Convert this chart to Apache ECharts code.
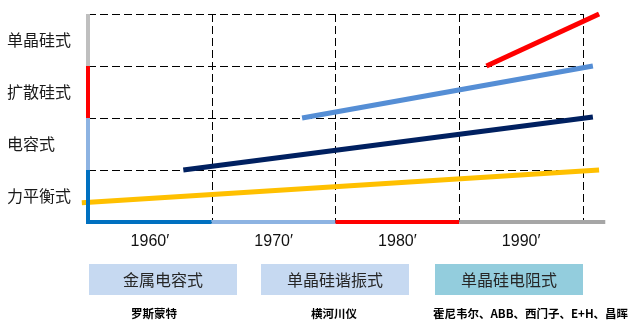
<!DOCTYPE html>
<html>
<head>
<meta charset="utf-8">
<script src="https://cdn.jsdelivr.net/npm/echarts@6/dist/echarts.min.js"></script>
<style>
html,body{margin:0;padding:0;background:#fff;}
#chart{width:632px;height:330px;}
</style>
</head>
<body>
<div id="chart"></div>
<script>
// ---- data ----
var typeLabels = ['力平衡式', '电容式', '扩散硅式', '单晶硅式'];
var decadeLabels = ['1960′', '1970′', '1980′', '1990′'];
var techLabels = ['金属电容式', '单晶硅谐振式', '单晶硅电阻式'];
var makerLabels = ['罗斯蒙特', '横河川仪', '霍尼韦尔、ABB、西门子、E+H、昌晖'];

// trend lines: [year, level]
var forceBalance = [[1959.5, 0.37], [2001.3, 1.0]];
var capacitive   = [[1967.7, 1.0], [2000.8, 2.02]];
var diffusedSi   = [[1977.3, 2.0], [2000.8, 3.0]];
var monoSi       = [[1992.2, 3.0], [2001.3, 4.0]];

// era segments along the axes
var eraStarts = [1960, 1970, 1980, 1990];
var eraEnds   = [1970, 1980, 1990, 2001.8];
var levelStarts = [0, 1, 2, 3];
var levelEnds   = [1, 2, 3, 4];

// ---- chart ----
var FONT = '"Noto Sans CJK SC", "Noto Sans", sans-serif';
var bottomColors = ['#0070c0', '#8db3e2', '#ff0000', '#a6a6a6'];
var leftColors   = ['#0070c0', '#8db3e2', '#ff0000', '#bfbfbf'];
var trendColors  = ['#ffc000', '#002060', '#558ed5', '#ff0000'];
var dash = {color: '#000', width: 1, type: [8, 4]};
var PX_PER_YEAR = 495 / 40;
var X_MIN = 1959, X_MAX = 2002;

var series = [];
var trends = [forceBalance, capacitive, diffusedSi, monoSi];
trends.forEach(function (d, i) {
  series.push({
    type: 'line', xAxisIndex: 2, yAxisIndex: 2, data: d, showSymbol: false,
    symbol: 'none', clip: false, silent: true, z: 5,
    lineStyle: {color: trendColors[i], width: 5, cap: 'butt'}
  });
});
// axis segments
for (var i = 0; i < 4; i++) {
  if (i === 0) {
    var pts = [[eraStarts[0], levelEnds[0]], [eraStarts[0], levelStarts[0]], [eraEnds[0], levelStarts[0]]];
    series.push({type: 'line', xAxisIndex: 2, yAxisIndex: 2, data: pts, symbol: 'none', clip: false, silent: true, z: 6,
      lineStyle: {color: bottomColors[0], width: 4, join: 'miter'}});
  } else {
    series.push({type: 'line', xAxisIndex: 2, yAxisIndex: 2,
      data: [[eraStarts[i], 0], [eraEnds[i], 0]], symbol: 'none', clip: false, silent: true, z: 6,
      lineStyle: {color: bottomColors[i], width: 4}});
    series.push({type: 'line', xAxisIndex: 2, yAxisIndex: 2,
      data: [[eraStarts[0], levelStarts[i]], [eraStarts[0], levelEnds[i]]], symbol: 'none', clip: false, silent: true, z: 6,
      lineStyle: {color: leftColors[i], width: 4}});
  }
}

var boxColors = ['#c6d9f1', '#c6d9f1', '#93cddd'];
var boxLeft = [89, 261, 435];
var boxW = 148, boxTop = 264, boxH = 31;
var graphics = [];
techLabels.forEach(function (t, i) {
  graphics.push({
    type: 'rect', left: boxLeft[i], top: boxTop, shape: {width: boxW, height: boxH},
    style: {fill: boxColors[i]}, silent: true
  });
  graphics.push({
    type: 'text', x: boxLeft[i] + boxW / 2, y: boxTop + boxH / 2,
    style: {text: t, fill: '#262626', font: '16px ' + FONT, textAlign: 'center', textVerticalAlign: 'middle'}
  });
});
var makerX = [154, 334, 433];
var makerAlign = ['center', 'center', 'left'];
makerLabels.forEach(function (t, i) {
  graphics.push({
    type: 'text', x: makerX[i], y: 314,
    style: {text: t, fill: '#000', font: 'bold 11.5px ' + FONT, textAlign: makerAlign[i], textVerticalAlign: 'middle'}
  });
});

var hidden = {axisLine: {show: false}, axisTick: {show: false}, axisLabel: {show: false}, splitLine: {show: false}};
function merge(a, b) { var o = {}; for (var k in a) o[k] = a[k]; for (var k2 in b) o[k2] = b[k2]; return o; }

var chart = echarts.init(document.getElementById('chart'), null, {renderer: 'canvas'});
chart.setOption({
  backgroundColor: '#fff',
  animation: false,
  grid: [
    {left: 88, top: 14, width: 495, height: 208, containLabel: false, outerBoundsMode: 'none'},
    {left: 88 - (1960 - X_MIN) * PX_PER_YEAR, top: 14, width: (X_MAX - X_MIN) * PX_PER_YEAR, height: 208,
     containLabel: false, outerBoundsMode: 'none'}
  ],
  xAxis: [
    {type: 'value', gridIndex: 0, min: 1960, max: 2000, interval: 10,
     axisLine: {show: false}, axisTick: {show: false}, axisLabel: {show: false},
     splitLine: {show: true, lineStyle: dash}},
    {type: 'category', gridIndex: 0, data: decadeLabels, position: 'bottom', boundaryGap: true,
     axisLine: {show: false}, axisTick: {show: false}, splitLine: {show: false},
     axisLabel: {margin: 12, color: '#111', fontSize: 16, fontFamily: '"Liberation Sans", Arial, sans-serif'}},
    merge(hidden, {type: 'value', gridIndex: 1, min: X_MIN, max: X_MAX})
  ],
  yAxis: [
    {type: 'value', gridIndex: 0, min: 0, max: 4, interval: 1,
     axisLine: {show: false}, axisTick: {show: false}, axisLabel: {show: false},
     splitLine: {show: true, lineStyle: dash}},
    {type: 'category', gridIndex: 0, data: typeLabels, position: 'left', boundaryGap: true,
     axisLine: {show: false}, axisTick: {show: false}, splitLine: {show: false},
     axisLabel: {margin: 81, align: 'left', color: '#1a1a1a', fontSize: 16, fontFamily: FONT}},
    merge(hidden, {type: 'value', gridIndex: 1, min: 0, max: 4})
  ],
  series: series,
  graphic: graphics
});
</script>
</body>
</html>
